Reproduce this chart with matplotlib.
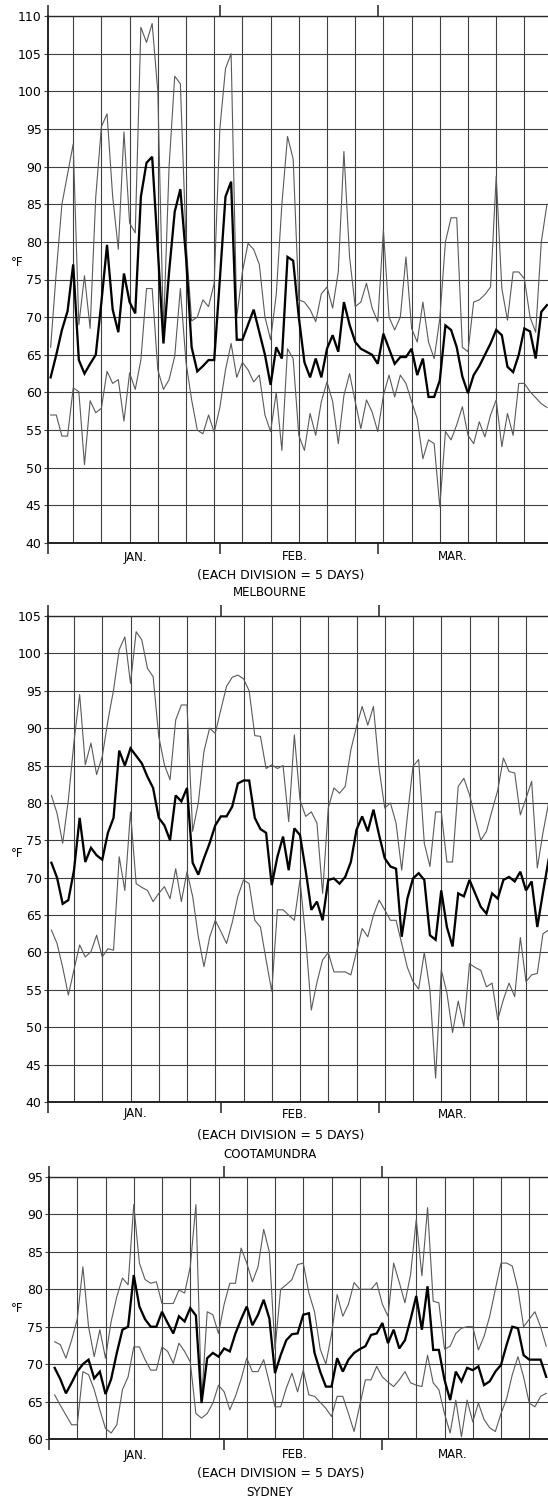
import matplotlib
matplotlib.use("Agg")
import matplotlib.pyplot as plt
import numpy as np

# ---------------- data: daily temperatures (deg F), Jan-Mar ----------------
months = ["JAN.", "FEB.", "MAR."]
month_starts = [31, 59]          # day index where Feb and Mar begin
caption = "(EACH DIVISION = 5 DAYS)"

melb_max = [66, 76, 85, 89, 93, 69, 75.5, 68.5, 86, 95.3,
            97, 86, 79, 94.6, 82.5, 81.2, 108.5, 106.5, 109, 100,
            68, 90, 102, 101, 80, 69.5, 70, 72.3, 71.4, 74.5,
            95, 103, 105, 70, 76, 79.8, 79, 77, 70, 67,
            73, 85, 94, 91, 72.3, 72, 71, 69.4, 73.1, 74,
            71.2, 76, 92, 78, 71.4, 72, 74.5, 71.2, 69.4, 81.6,
            70, 68.3, 70, 78, 68.5, 66.7, 72, 66.7, 64.5, 69.8,
            80, 83.2, 83.2, 66, 65.4, 72, 72.3, 73, 74, 88.7,
            73.8, 69.6, 76, 76, 75.1, 70, 68, 80, 85]
melb_mean = [62, 65, 68.3, 70.8, 77, 64.3, 62.5, 63.8, 65, 72,
             79.6, 71, 68, 75.8, 72, 70.5, 86, 90.5, 91.3, 79,
             66.5, 76, 84, 87, 78, 66, 62.8, 63.5, 64.3, 64.3,
             75, 86, 88, 67, 67, 69, 71, 68, 65, 61,
             66, 64.5, 78, 77.5, 70, 64, 62, 64.5, 62, 65.8,
             67.6, 65.4, 72, 69, 66.7, 65.8, 65.4, 65, 63.8, 67.8,
             65.8, 63.8, 64.7, 64.7, 65.8, 62.3, 64.5, 59.4, 59.4, 61.6,
             68.9, 68.3, 66, 62.1, 59.9, 62.3, 63.5, 65, 66.5, 68.3,
             67.6, 63.4, 62.7, 65, 68.5, 68.1, 64.5, 70.7, 71.6]
melb_min = [57, 57, 54.2, 54.2, 60.6, 60.1, 50.4, 58.9, 57.3, 57.9,
            62.8, 61.2, 61.7, 56.2, 62.6, 60.4, 64.3, 73.8, 73.8, 63,
            60.4, 61.7, 64.8, 73.8, 64, 59, 55, 54.5, 57, 54.7,
            58, 63, 66.5, 62, 64, 63, 61.4, 62.3, 57, 54.8,
            60, 52.3, 65.8, 64.5, 54.3, 52.3, 57.2, 54.3, 58.8, 61.4,
            58.8, 53.2, 59.6, 62.5, 58.8, 55.2, 59, 57.4, 54.8, 59.6,
            62.3, 59.4, 62.3, 61.2, 58.8, 56.5, 51.2, 53.7, 53.2, 44.8,
            54.8, 53.7, 55.7, 58.1, 54.3, 53.2, 56.1, 54.1, 57, 59,
            52.8, 57.2, 54.3, 61.2, 61.2, 60.1, 59.3, 58.5, 58]

coot_max = [81, 78.6, 74.6, 80.4, 88.2, 94.5, 85.1, 88, 83.8, 86.2,
            91, 95.1, 100.5, 102.2, 96, 102.9, 101.8, 98, 96.9, 88.9,
            85.1, 83.1, 91.1, 93.1, 93.1, 76.2, 80, 86.9, 90, 89.3,
            92.5, 95.6, 96.8, 97.1, 96.6, 95, 89, 88.9, 84.6, 85.1,
            84.6, 85, 77.5, 89.1, 80.4, 78.2, 78.8, 77.3, 67.9, 79.3,
            82, 81.3, 82.2, 87.1, 90.2, 92.9, 90.4, 92.9, 84.6, 79.3,
            80, 77.3, 71, 78.2, 84.9, 85.8, 74.6, 71.5, 78.8, 78.8,
            72.1, 72.1, 82.2, 83.3, 81.1, 78, 75, 76.2, 79, 81.7,
            86, 84.2, 84, 78.4, 80.6, 82.9, 71.3, 76, 80]
coot_mean = [72, 70, 66.5, 67, 71, 78, 72.1, 74, 73, 72.4,
             76, 78, 87, 85, 87.3, 86.3, 85.3, 83.5, 82, 78,
             77, 75, 81, 80.2, 82, 72, 70.4, 72.6, 74.6, 77,
             78.2, 78.2, 79.5, 82.6, 83, 83, 78, 76.5, 76, 69,
             72.8, 75.5, 71, 76.6, 75.7, 71, 65.7, 66.8, 64.3, 69.7,
             69.9, 69.2, 70.1, 72.1, 76.4, 78.2, 76.2, 79.1, 75.7, 72.6,
             71.5, 71.2, 62.1, 67.2, 69.9, 70.6, 69.7, 62.3, 61.7, 68.3,
             63.4, 60.8, 67.9, 67.5, 69.7, 67.9, 66.1, 65.2, 67.9, 67.2,
             69.7, 70.1, 69.5, 70.8, 68.3, 69.5, 63.4, 68, 72.4]
coot_min = [63, 61.2, 58, 54.3, 57.7, 61, 59.4, 60.1, 62.3, 59.4,
            60.5, 60.3, 72.8, 68.3, 78.8, 69.2, 68.7, 68.3, 66.8, 67.9,
            68.8, 67.2, 71.2, 66.8, 70.8, 67.5, 62.1, 58.1, 62, 64.3,
            62.8, 61.2, 64, 67.5, 69.7, 69.2, 64.3, 63.4, 59, 54.8,
            65.7, 65.7, 65, 64.3, 69.7, 62, 52.3, 56, 59, 60,
            57.4, 57.4, 57.4, 57, 60.1, 63.2, 62.1, 65, 67, 65.7,
            64.3, 64.3, 61.2, 58, 56.1, 55.1, 60, 55, 43.2, 57.7,
            54.6, 49.3, 53.5, 50.1, 58.5, 58, 57.6, 55.4, 55.9, 51,
            53.7, 55.9, 54.1, 62, 56.1, 57, 57.2, 62.5, 63]

syd_max = [73, 72.6, 70.8, 73.2, 76, 83, 75, 71, 74.6, 70.8,
           75.7, 79, 81.5, 80.6, 91.3, 83.5, 81.3, 80.8, 81, 78.1,
           78.1, 78.1, 79.9, 79.5, 83, 91.3, 65, 77, 76.6, 74.1,
           78, 80.8, 80.8, 85.5, 83.5, 81, 83, 88, 85, 72,
           80, 80.6, 81.3, 83.3, 83.5, 79.5, 77, 72, 70, 74,
           79.3, 76.4, 78, 80.9, 80, 80, 80, 80.9, 78, 76.4,
           83.5, 80.9, 78.2, 82, 89.3, 81.8, 90.9, 78.4, 78.2, 72,
           72.4, 74.1, 74.8, 75, 75, 71.9, 73.7, 76.4, 80, 83.5,
           83.5, 83.1, 80, 75, 76, 77, 75, 72.4]
syd_mean = [69.5, 68, 66.1, 67.5, 69, 70, 70.6, 68.1, 69, 66,
            68, 71.5, 74.6, 75, 81.9, 77.7, 76, 75, 75, 77,
            75.5, 74.1, 76.4, 75.7, 77.5, 76.5, 64.8, 70.8, 71.5, 71,
            72.1, 71.7, 74.1, 76, 77.7, 75.2, 76.6, 78.6, 76.1, 68.8,
            71.2, 73.2, 74, 74.1, 76.6, 76.8, 71.5, 69, 67, 67,
            70.8, 69, 70.6, 71.5, 72, 72.4, 73.9, 74.1, 75.5, 72.8,
            74.6, 72.1, 73.2, 76, 79.1, 74.6, 80.4, 71.9, 71.9, 67.9,
            65.2, 69, 67.7, 69.5, 69.2, 69.7, 67.2, 67.7, 69, 69.9,
            72.6, 75, 74.8, 71.2, 70.6, 70.6, 70.6, 68.3]
syd_min = [65.9, 64.5, 63.2, 61.9, 61.9, 69, 68.6, 66.6, 63.9, 61.4,
           60.8, 61.9, 66.6, 68.3, 72.3, 72.3, 70.6, 69.2, 69.2, 72.3,
           71.7, 70.1, 72.8, 71.7, 70.3, 63.4, 62.8, 63.4, 64.8, 67.2,
           66.3, 63.9, 65.7, 68, 70.8, 69, 69, 70.6, 67.5, 64.3,
           64.3, 66.8, 68.8, 66.3, 69.2, 65.9, 65.7, 64.9, 64.1, 63,
           65.7, 65.7, 63.4, 61, 64.5, 67.9, 67.9, 69.7, 68.3, 67.6,
           67, 67.9, 69, 67.5, 67.2, 67, 71.2, 67.5, 66.6, 63.4,
           60.8, 65.2, 60.3, 65.2, 62.3, 64.8, 62.6, 61.5, 61, 63.4,
           65.4, 68.6, 71, 68.3, 64.8, 64.3, 65.7, 66.1]

# ---------------- figure ----------------
W, H = 548, 1497
fig = plt.figure(figsize=(W / 100, H / 100), dpi=100)
fig.patch.set_facecolor("white")

GRID = "#404040"
THIN = "#5a5a5a"


def fx(px):
    return px / W


def fy(px):
    return 1 - px / H


def panel(hi, mean, lo, ylo, yhi, left_px, top_px, bottom_px, day0_px,
          px_day, name, month_y, cap_y, name_y, unit_y):
    x0 = (left_px - day0_px) / px_day
    x1 = (W - day0_px) / px_day
    ax = fig.add_axes([fx(left_px), fy(bottom_px), (W - left_px) / W,
                       (bottom_px - top_px) / H])
    ax.set_xlim(x0, x1)
    ax.set_ylim(ylo, yhi)
    days = np.arange(1, len(mean) + 1)

    ax.plot(days, hi, color=THIN, lw=0.8, zorder=3)
    ax.plot(days, lo, color=THIN, lw=0.8, zorder=3)
    ax.plot(days, mean, color="black", lw=1.65, zorder=4,
            solid_joinstyle="miter")

    ax.set_yticks(np.arange(ylo, yhi + 1, 5))
    ax.tick_params(axis="y", length=3, width=0.8, pad=1.5, labelsize=9,
                   color=GRID)
    ax.set_xticks([x0] + month_starts)
    ax.set_xticklabels([])
    ax.tick_params(axis="x", which="major", direction="out", length=8,
                   width=1.1, top=True, bottom=True, color="#222222")
    ax.set_xticks(np.arange(5, x1, 5), minor=True)
    ax.tick_params(axis="x", which="minor", length=0)
    ax.grid(True, which="minor", axis="x", color=GRID, lw=0.8)
    ax.grid(True, which="major", axis="y", color=GRID, lw=0.8)
    ax.set_axisbelow(True)

    for s in ("left", "bottom"):
        ax.spines[s].set_linewidth(1.4)
        ax.spines[s].set_color("#222222")
    ax.spines["top"].set_linewidth(1.0)
    ax.spines["top"].set_color("#2a2a2a")
    ax.spines["right"].set_visible(False)

    for lab, xpx in zip(months, [135, 295, 453]):
        fig.text(fx(xpx), fy(month_y), lab, ha="center", va="center",
                 fontsize=8.5)
    fig.text(fx(281), fy(cap_y), caption, ha="center", va="center",
             fontsize=9)
    fig.text(fx(270), fy(name_y), name, ha="center", va="center",
             fontsize=8.5)
    fig.text(fx(17), fy(unit_y), "°F", ha="center", va="center",
             fontsize=8.5)
    return ax


panel(melb_max, melb_mean, melb_min, 40, 110, 48, 16, 543, 45.0, 5.64,
      "MELBOURNE", 557, 576, 592, 262)
panel(coot_max, coot_mean, coot_min, 40, 105, 48, 616, 1102, 45.75, 5.65,
      "COOTAMUNDRA", 1114, 1135, 1155, 853)
panel(syd_max, syd_mean, syd_min, 60, 95, 49, 1177, 1439, 49.0, 5.65,
      "SYDNEY", 1455, 1473, 1492, 1308)

fig.savefig("out.png", dpi=100, facecolor="white")
